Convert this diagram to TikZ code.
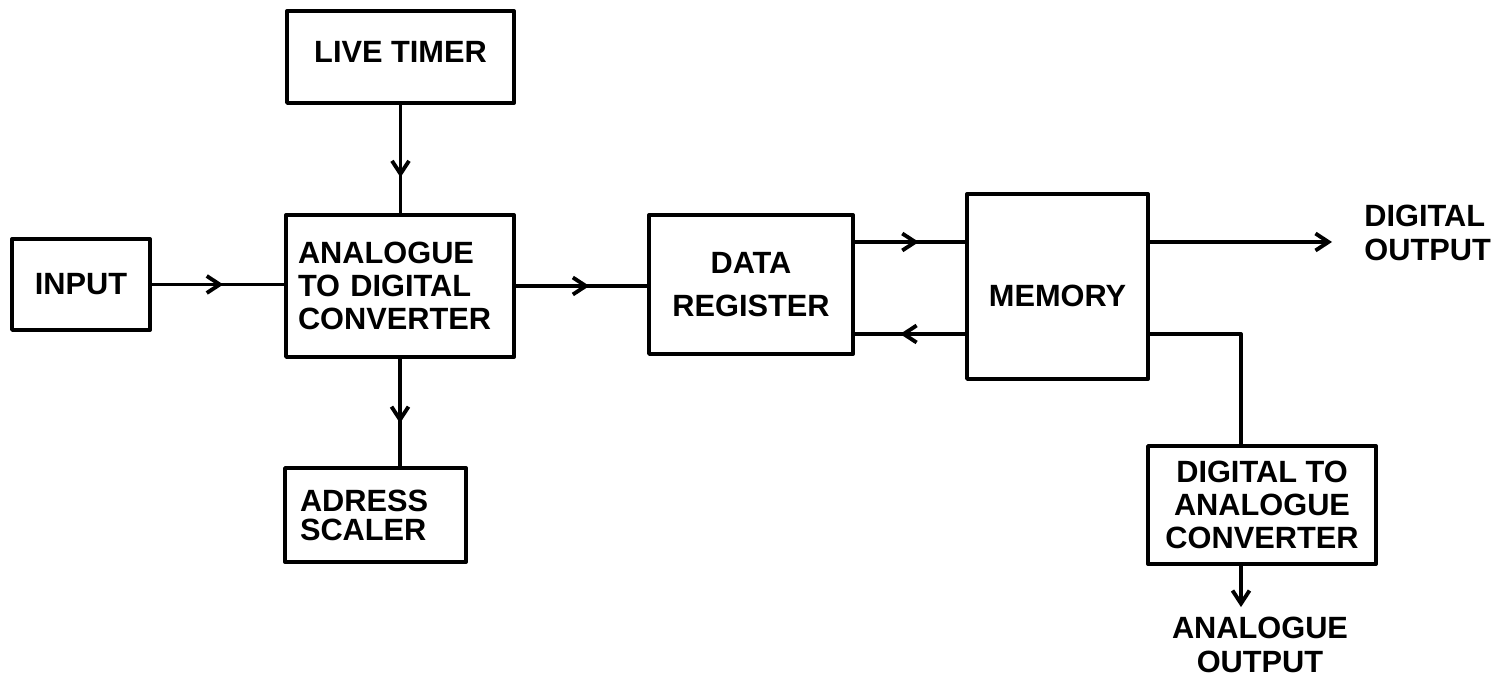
\documentclass[tikz,border=0pt]{standalone}
\usepackage{fontspec}
\setmainfont{Liberation Sans}
\usetikzlibrary{arrows.meta,decorations.markings}

\newcommand\lett{\fontsize{17.5}{19}\selectfont\bfseries}

\begin{document}
\begin{tikzpicture}[line cap=round,line join=round,x=1.0cm,y=1.0cm,
        blk/.style={draw,line width=2.2pt,inner sep=0pt,font=\lett},
        lbl/.style={font=\lett,inner sep=0pt},
        wire/.style={line width=2.2pt},
        tip/.style={-{Straight Barb[length=0.26cm,width=0.34cm]}},
        midarrow/.style={postaction={decorate},decoration={markings,
            mark=at position #1 with {\arrow{Straight Barb[length=0.26cm,width=0.34cm]}}}}]
        \useasboundingbox (0,0) rectangle (29.94,13.6);
        % blocks
        \node[blk,minimum width=2.76cm,minimum height=1.82cm] (input) at (1.62,7.91) {INPUT};
        \node[blk,minimum width=4.54cm,minimum height=1.84cm] (timer) at (8.01,12.46) {\raisebox{0.1cm}[\height][\depth]{LIVE TIMER}};
        \node[blk,minimum width=4.56cm,minimum height=2.84cm,text width=4.08cm,align=left] (adc) at (8.0,7.88) {ANALOGUE\\TO DIGITAL\\CONVERTER};
        \node[blk,minimum width=3.62cm,minimum height=1.88cm,text width=3.02cm,align=left] (scaler) at (7.51,3.3) {ADRESS\\[-2.5pt]SCALER};
        \node[blk,minimum width=4.08cm,minimum height=2.78cm,align=center] (reg) at (15.02,7.91) {DATA\\[5pt]REGISTER};
        \node[blk,minimum width=3.62cm,minimum height=3.7cm] (mem) at (21.15,7.87) {\raisebox{-0.18cm}[\height][\depth]{MEMORY}};
        \node[blk,minimum width=4.56cm,minimum height=2.36cm,align=center] (dac) at (25.24,3.5) {DIGITAL TO\\ANALOGUE\\CONVERTER};
        % outputs
        \node[lbl,anchor=west,align=left] (dout) at (27.28,8.94) {DIGITAL\\OUTPUT};
        \node[lbl,align=center] (aout) at (25.2,0.7) {ANALOGUE\\OUTPUT};
        \coordinate (hi) at (0,8.76);
        \coordinate (lo) at (0,6.92);
        \coordinate (tap) at (24.82,0);
        % signal lines
        \draw[wire,midarrow=0.54] (input.east) -- (input.east -| adc.west);
        \draw[wire,midarrow=0.67] (timer.south) -- (timer.south |- adc.north);
        \draw[wire,midarrow=0.6] (adc.south) -- (adc.south |- scaler.north);
        \draw[wire,midarrow=0.56] (adc.east) -- (adc.east -| reg.west);
        \draw[wire,midarrow=0.58] (reg.east |- hi) -- (mem.west |- hi);
        \draw[wire,midarrow=0.59] (mem.west |- lo) -- (reg.east |- lo);
        \draw[wire,tip,shorten >=0.64cm] (mem.east |- hi) -- (dout.west |- hi);
        \draw[wire] (mem.east |- lo) -| (tap |- dac.north);
        \draw[wire,tip,shorten >=0.2cm] (tap |- dac.south) -- (tap |- aout.north);
\end{tikzpicture}
\end{document}
